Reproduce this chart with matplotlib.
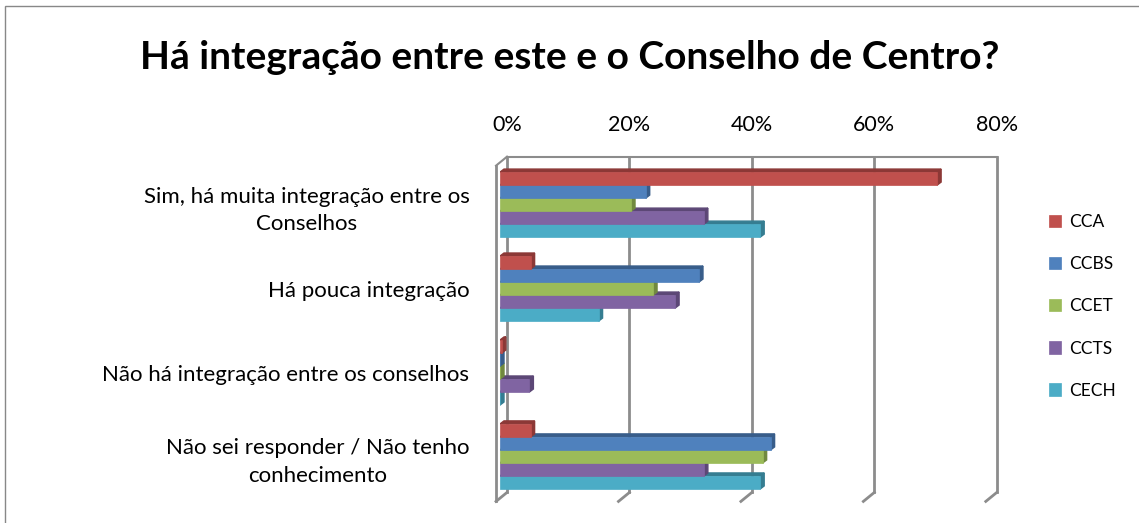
import matplotlib
matplotlib.use("Agg")
import matplotlib.pyplot as plt
import matplotlib.transforms as mtransforms
import numpy as np
from matplotlib.patches import Rectangle, Polygon

categories = [
    "Sim, há muita integração entre os\nConselhos",
    "Há pouca integração",
    "Não há integração entre os conselhos",
    "Não sei responder / Não tenho\nconhecimento",
]
series = ["CCA", "CCBS", "CCET", "CCTS", "CECH"]
colors = ["#C0504D", "#4F81BD", "#9BBB59", "#8064A2", "#4BACC6"]
dark_colors = ["#8C3836", "#385D8A", "#71893F", "#5C4776", "#357D91"]

# percent values per series, in category order
cca = [71.4, 5.0, 0.3, 5.0]
ccbs = [23.8, 32.5, 0.0, 44.2]
ccet = [21.4, 25.0, 0.0, 42.9]
ccts = [33.3, 28.6, 4.8, 33.3]
cech = [42.5, 16.1, 0.0, 42.5]
values = [cca, ccbs, ccet, ccts, cech]

ticks = [0, 20, 40, 60, 80]
tick_labels = ["0%", "20%", "40%", "60%", "80%"]

plt.rcParams["font.family"] = ["Lato", "DejaVu Sans"]

fig = plt.figure(figsize=(11.39, 5.23), dpi=100)
# chart frame: only the left and top edges fall inside the picture
fig.patches.append(Rectangle((0.004, -0.1), 1.2, 1.089, transform=fig.transFigure,
                             fill=False, edgecolor="#888888", lw=1))

ax = fig.add_axes([0.439, 0.047, 0.430, 0.642])
ax.set_ylim(3.5, -0.5)
ax.set_xlim(0, 80)

grid_c = "#8c8c8c"
# back wall (shifted up-right) and front edge (shifted down-left)
back = mtransforms.offset_copy(ax.transData, fig=fig, x=7, y=6, units="dots")
front = mtransforms.offset_copy(ax.transData, fig=fig, x=-4, y=-3, units="dots")
for t in ticks:
    ax.plot([t, t], [-0.5, 3.5], color=grid_c, lw=2, transform=back,
            clip_on=False, zorder=1)
ax.plot([0, 80], [-0.5, -0.5], color=grid_c, lw=1.5, transform=back,
        clip_on=False, zorder=1)
ax.plot([0, 0], [-0.5, 3.5], color=grid_c, lw=2, transform=front,
        clip_on=False, zorder=2)
# slanted connectors between front and back
for t in ticks:
    p_back = back.transform((t, 3.5))
    p_front = front.transform((t, 3.5))
    ax.plot([p_back[0], p_front[0]], [p_back[1], p_front[1]], color=grid_c,
            lw=2, transform=None, clip_on=False, zorder=1)
pb = back.transform((0, -0.5))
pf = front.transform((0, -0.5))
ax.plot([pb[0], pf[0]], [pb[1], pf[1]], color=grid_c, lw=1.5,
        transform=None, clip_on=False, zorder=1)

n_cat = len(categories)
bar_h = 0.155
dx, dy = 0.65, 0.036
centers = np.arange(n_cat)
# draw bottom series first so the bar above hides its top face
for i in reversed(range(len(series))):
    y = centers + (i - 2) * bar_h
    z = 3 + (len(series) - i)
    ax.barh(y, values[i], height=bar_h, color=colors[i], edgecolor=colors[i],
            linewidth=0.5, label=series[i], zorder=z)
    for yc, v in zip(y, values[i]):
        top, bot = yc - bar_h / 2, yc + bar_h / 2
        ax.add_patch(Polygon([(0, top), (dx, top - dy), (v + dx, top - dy), (v, top)],
                             closed=True, color=dark_colors[i], zorder=z - 0.5))
        ax.add_patch(Polygon([(v, top), (v + dx, top - dy), (v + dx, bot - dy), (v, bot)],
                             closed=True, color=dark_colors[i], zorder=z - 0.5))

ax.set_yticks(centers)
ax.set_yticklabels(categories, fontsize=16, ha="right", linespacing=1.45)
for lbl in ax.get_yticklabels():
    lbl.set_multialignment("center")
ax.tick_params(axis="y", length=0, pad=22)

ax.xaxis.tick_top()
ax.set_xticks(ticks)
ax.set_xticklabels(tick_labels, fontsize=15.5)
ax.tick_params(axis="x", length=0, pad=20)
shift = mtransforms.ScaledTranslation(7 / 100, 0, fig.dpi_scale_trans)
for lbl in ax.get_xticklabels():
    lbl.set_transform(lbl.get_transform() + shift)
for s in ax.spines.values():
    s.set_visible(False)

fig.text(0.5, 0.89, "Há integração entre este e o Conselho de Centro?",
         ha="center", va="center", fontsize=28, fontweight="bold")

handles, labels = ax.get_legend_handles_labels()
order = [labels.index(s) for s in series]
fig.legend([handles[k] for k in order], [labels[k] for k in order],
           loc="center left", bbox_to_anchor=(0.907, 0.414), frameon=False,
           fontsize=12.5, handlelength=0.7, handleheight=0.7, labelspacing=1.5,
           handletextpad=0.5)

fig.savefig("out.png", dpi=100)
